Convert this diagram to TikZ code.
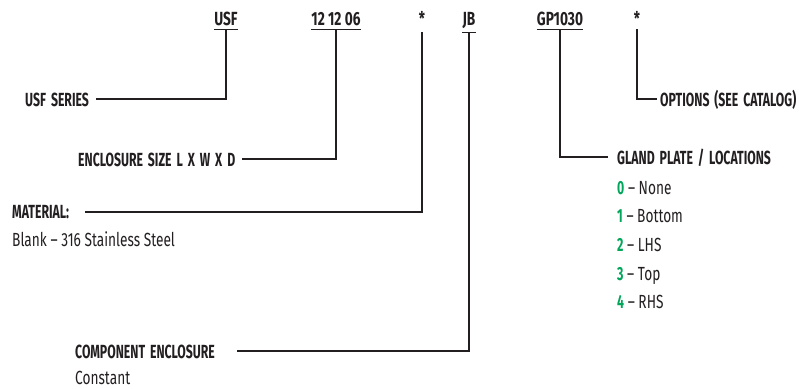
\documentclass[tikz,border=0pt]{standalone}
\usepackage{fontspec}
\setmainfont{Fira Sans}[FakeStretch=0.72, BoldFeatures={FakeStretch=0.645, WordSpace=1.7}]
\newfontfamily\codefont{Fira Sans}[FakeStretch=0.72]
\usetikzlibrary{positioning}
\definecolor{inkgray}{RGB}{35,31,32}
\definecolor{codegreen}{RGB}{0,166,90}

\begin{document}
\begin{tikzpicture}[x=1pt, y=-1pt,
  code/.style={font=\fontsize{19}{21}\codefont\bfseries, text=inkgray, inner xsep=0pt, inner ysep=4pt, anchor=base},
  head/.style={font=\fontsize{19}{21}\selectfont\bfseries, text=inkgray, inner sep=0pt, anchor=base west},
  body/.style={font=\fontsize{19}{21}\selectfont, text=inkgray, inner sep=0pt, anchor=base west},
  lead/.style={draw=inkgray, line width=2pt},
  ul/.style={draw=inkgray, line width=1.3pt},
]
  \useasboundingbox (0,0) rectangle (799,388);

  % Part number codes
  \node[code] (usf) at (226,25) {USF};
  \node[code] (size) at (336,25) {12 12 06};
  \node[code] (mat) at (422,25) {*};
  \node[code] (jb) at (469,25) {JB};
  \node[code] (gp) at (560,25) {GP1030};
  \node[code] (opt) at (637,25) {*};

  % Underlines
  \foreach \n in {usf,size,jb,gp}{
    \draw[ul] (\n.south west) -- (\n.south east);
  }

  % Labels
  \node[head] (series) at (25,106) {USF SERIES};
  \node[head] (encl) at (78,166) {ENCLOSURE SIZE L X W X D};
  \node[head] (matl) at (12,218) {MATERIAL:};
  \node[body] (blank) at (12,246) {Blank – 316 Stainless Steel};
  \node[head] (comp) at (75,358) {COMPONENT ENCLOSURE};
  \node[body] (const) at (75,384) {Constant};
  \node[head] (gland) at (617,164) {GLAND PLATE / LOCATIONS};
  \node[head] (optl) at (660,106) {OPTIONS (SEE CATALOG)};

  % Gland plate locations
  \foreach \i/\txt in {0/None, 1/Bottom, 2/LHS, 3/Top, 4/RHS}{
    \node[body] (loc\i) at (617,194+28.7*\i) {\textcolor{codegreen}{\bfseries\i} – \txt};
  }

  % Leaders
  \draw[lead] (usf.south) |- ([xshift=7pt]series.east);
  \draw[lead] (size.south) |- ([xshift=7pt]encl.east);
  \draw[lead] ([yshift=-3pt]mat.south) |- ([xshift=16pt]matl.east);
  \draw[lead] (jb.south) |- ([xshift=22pt]comp.east);
  \draw[lead] (gp.south) |- ([xshift=-9pt]gland.west);
  \draw[lead] (opt.south) |- ([xshift=-3pt]optl.west);
\end{tikzpicture}
\end{document}
